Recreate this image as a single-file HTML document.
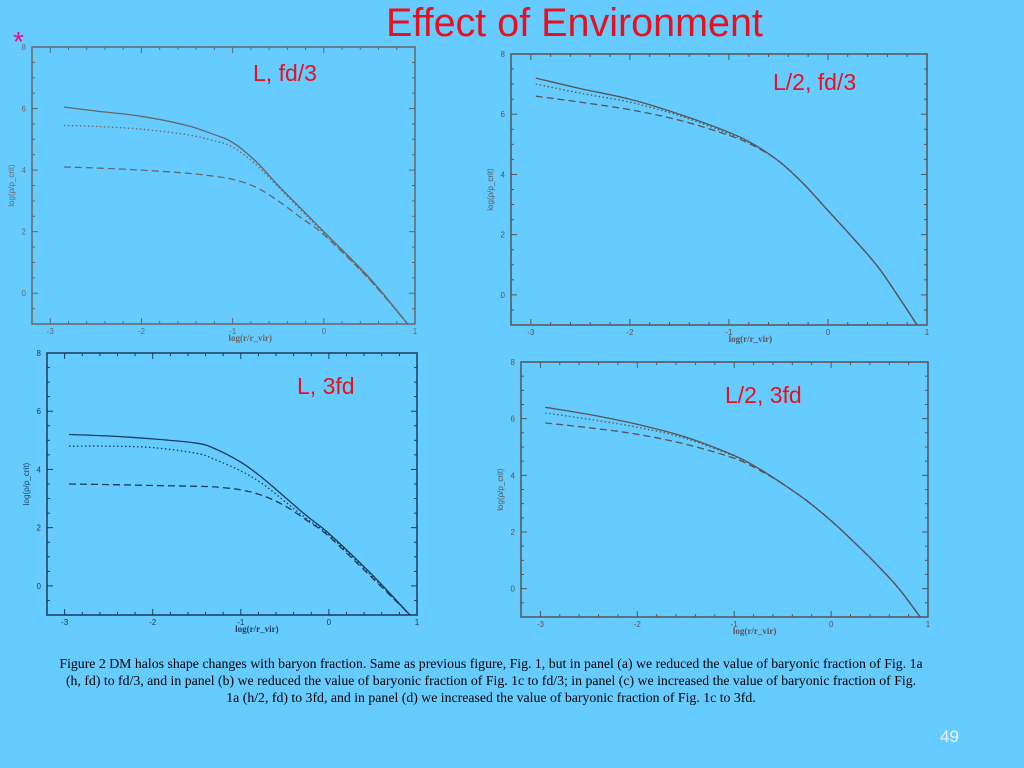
<!DOCTYPE html>
<html><head><meta charset="utf-8"><style>
body{margin:0;width:1024px;height:768px;background:#66CCFF;overflow:hidden;position:relative;font-family:"Liberation Sans",sans-serif}
.t{position:absolute;color:#e8101c;white-space:nowrap}
#cap{position:absolute;left:0px;top:655px;width:982px;text-align:center;font-family:"Liberation Serif",serif;font-size:13.8px;line-height:17px;color:#000;white-space:nowrap}
</style></head><body>
<div class="t" style="left:386px;top:1px;font-size:39.5px">Effect of Environment</div>
<div class="t" style="left:13px;top:26px;font-size:28px;color:#e0108a">*</div>
<svg id="svg" width="1024" height="768" style="position:absolute;left:0;top:0"></svg>
<div class="t" style="left:253px;top:60px;font-size:23px">L, fd/3</div>
<div class="t" style="left:773px;top:69px;font-size:23px">L/2, fd/3</div>
<div class="t" style="left:297px;top:373px;font-size:23px">L, 3fd</div>
<div class="t" style="left:725px;top:382px;font-size:23px">L/2, 3fd</div>
<div id="cap">Figure 2 DM halos shape changes with baryon fraction. Same as previous figure, Fig. 1, but in panel (a) we reduced the value of baryonic fraction of Fig. 1a<br>(h, fd) to fd/3, and in panel (b) we reduced the value of baryonic fraction of Fig. 1c to fd/3; in panel (c) we increased the value of baryonic fraction of Fig.<br>1a (h/2, fd) to 3fd, and in panel (d) we increased the value of baryonic fraction of Fig. 1c to 3fd.</div>
<div class="t" style="left:940px;top:727px;font-size:17px;color:#f4f4f4">49</div>
<script>
const xTicks=[-3,-2,-1,0,1];
const yTicks=[0,2,4,6,8];
const aX=[-2.85,-2.5,-2,-1.5,-1.2,-1,-0.75,-0.5,-0.25,0,0.5,0.92];
const aSolid=[6.05,5.92,5.75,5.45,5.15,4.9,4.3,3.5,2.75,2.0,0.5,-1];
const aDot=[5.45,5.42,5.33,5.15,4.95,4.75,4.2,3.45,2.7,1.95,0.45,-1];
const aDash=[4.1,4.07,4.0,3.9,3.8,3.7,3.45,3.0,2.45,1.9,0.45,-1];
const bX=[-2.95,-2.5,-2,-1.5,-1,-0.75,-0.5,-0.25,0,0.25,0.5,0.7,0.9];
const bSolid=[7.2,6.85,6.5,6.0,5.4,5.0,4.45,3.7,2.8,1.9,0.95,0.0,-1];
const bDot=[7.0,6.7,6.4,5.95,5.35,4.98,4.45,3.7,2.8,1.9,0.95,0.0,-1];
const bDash=[6.6,6.4,6.15,5.8,5.3,4.95,4.45,3.7,2.8,1.9,0.95,0.0,-1];
const cX=[-2.95,-2.5,-2,-1.5,-1.3,-1,-0.75,-0.5,-0.25,0,0.5,0.92];
const cSolid=[5.2,5.15,5.05,4.9,4.72,4.25,3.7,3.05,2.4,1.8,0.35,-1];
const cDot=[4.8,4.8,4.75,4.55,4.35,3.95,3.5,2.9,2.3,1.75,0.3,-1];
const cDash=[3.5,3.48,3.45,3.42,3.4,3.3,3.1,2.75,2.25,1.7,0.25,-1];
const dX=[-2.95,-2.5,-2,-1.5,-1,-0.75,-0.5,-0.25,0,0.25,0.5,0.7,0.92];
const dSolid=[6.4,6.15,5.8,5.35,4.7,4.25,3.7,3.1,2.4,1.6,0.75,0.0,-1];
const dDot=[6.2,5.98,5.7,5.3,4.67,4.24,3.7,3.1,2.4,1.6,0.75,0.0,-1];
const dDash=[5.85,5.68,5.45,5.1,4.6,4.2,3.7,3.1,2.4,1.6,0.75,0.0,-1];
const panels=[
 {id:'a',l:32,r:415,t:47,b:324,x:aX,s:[aSolid,aDot,aDash],c:'#666'},
 {id:'b',l:511,r:927,t:54,b:325,x:bX,s:[bSolid,bDot,bDash],c:'#555'},
 {id:'c',l:47,r:417,t:353,b:615,x:cX,s:[cSolid,cDot,cDash],c:'#1a3a5a'},
 {id:'d',l:521,r:928,t:362,b:617,x:dX,s:[dSolid,dDot,dDash],c:'#555'}];
const NS='http://www.w3.org/2000/svg';
const svg=document.getElementById('svg');
function mk(tag,at,par){const e=document.createElementNS(NS,tag);for(const k in at)e.setAttribute(k,at[k]);(par||svg).appendChild(e);return e;}
function smooth(pts){let d='M'+pts[0][0].toFixed(1)+' '+pts[0][1].toFixed(1);
 for(let i=0;i<pts.length-1;i++){const p0=pts[i-1]||pts[i],p1=pts[i],p2=pts[i+1],p3=pts[i+2]||p2;
  const c1=[p1[0]+(p2[0]-p0[0])/6,p1[1]+(p2[1]-p0[1])/6],c2=[p2[0]-(p3[0]-p1[0])/6,p2[1]-(p3[1]-p1[1])/6];
  d+=` C${c1[0].toFixed(1)} ${c1[1].toFixed(1)} ${c2[0].toFixed(1)} ${c2[1].toFixed(1)} ${p2[0].toFixed(1)} ${p2[1].toFixed(1)}`;}
 return d;}
const dashes=['none','1.5 2.5','7 4'];
const sNames=['solid','dotted','dashed'];
panels.forEach(p=>{
 const g=mk('g',{});
 
 
 const X=v=>p.l+(v+3.2)/4.2*(p.r-p.l);
 const Y=v=>p.b-(v+1)/9*(p.b-p.t);
 const fr=mk('rect',{x:p.l,y:p.t,width:p.r-p.l,height:p.b-p.t,fill:'none',stroke:p.c,'stroke-width':1.5},g);
 
 
 for(let v=-3;v<=1.001;v+=0.2){const x=X(v);const maj=Math.abs(v-Math.round(v))<0.01;const L=maj?6:3;
  mk('line',{x1:x,x2:x,y1:p.b,y2:p.b-L,stroke:p.c},g);mk('line',{x1:x,x2:x,y1:p.t,y2:p.t+L,stroke:p.c},g);}
 for(let v=-1;v<=8.001;v+=0.5){const y=Y(v);const maj=Math.abs(v/2-Math.round(v/2))<0.01;const L=maj?6:3;
  mk('line',{x1:p.l,x2:p.l+L,y1:y,y2:y,stroke:p.c},g);mk('line',{x1:p.r,x2:p.r-L,y1:y,y2:y,stroke:p.c},g);}
 xTicks.forEach(v=>{const t=mk('text',{x:X(v),y:p.b+10,'font-size':8,'text-anchor':'middle',fill:p.c},g);t.textContent=v;
  });
 yTicks.forEach(v=>{const t=mk('text',{x:p.l-6,y:Y(v)+3,'font-size':8,'text-anchor':'end',fill:p.c},g);t.textContent=v;
  });
 const xt=mk('text',{x:(X(-1)+X(0))/2-28,y:p.b+17,'font-size':9,'font-family':'Liberation Serif,serif','font-weight':'bold','text-anchor':'middle',fill:p.c},g);
 xt.textContent='log(r/r_vir)';
 
 const ym=(p.t+p.b)/2;
 const yt=mk('text',{x:p.l-18,y:ym,'font-size':8,'text-anchor':'middle',fill:p.c,transform:`rotate(-90 ${p.l-18} ${ym})`},g);
 yt.textContent='log(ρ/ρ_crit)';
 
 p.s.forEach((arr,i)=>{const pts=arr.map((v,j)=>[X(p.x[j]),Y(v)]);
  const pa=mk('path',{d:smooth(pts),fill:'none',stroke:p.c,'stroke-width':1.3,'stroke-dasharray':dashes[i]},g);
  });
});
</script>
</body></html>
